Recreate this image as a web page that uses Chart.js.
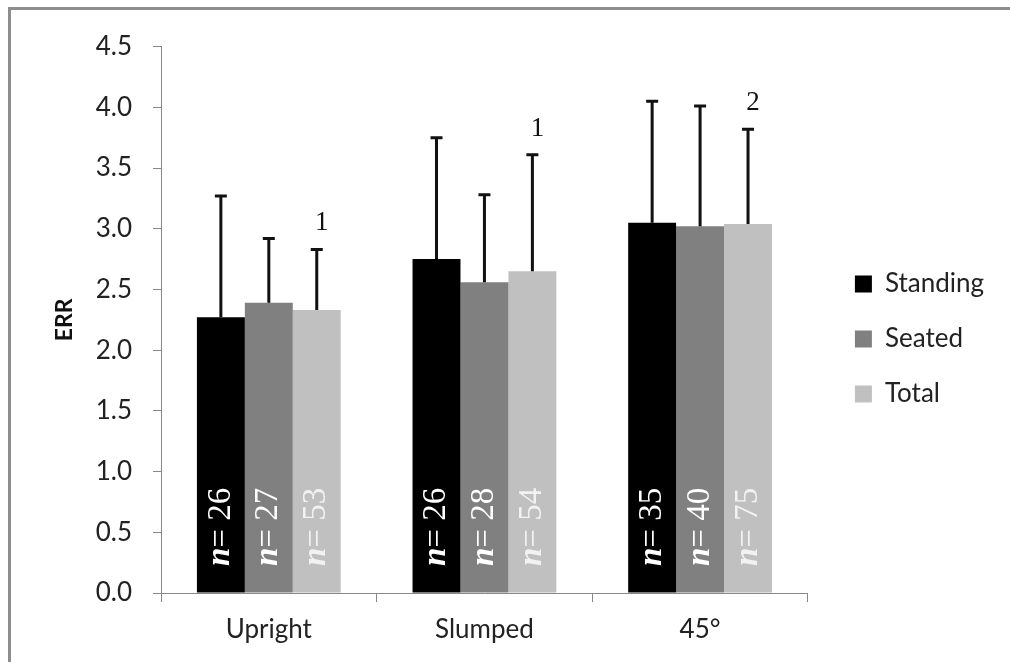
<!DOCTYPE html>
<html>
<head>
<meta charset="utf-8">
<script src="https://cdn.jsdelivr.net/npm/chart.js@4.4.1/dist/chart.umd.min.js"></script>
<style>
  html, body { margin: 0; padding: 0; background: #fff; overflow: hidden; }
  #frame {
    position: absolute; left: 8px; top: 7px;
    width: 1100px; height: 760px;
    border-top: 3px solid #8e8e8e; border-left: 3px solid #8e8e8e;
  }
  #grafico { position: absolute; left: 0; top: 0; }
</style>
</head>
<body>
<div id="frame"><canvas id="grafico" width="999" height="652"></canvas></div>
<script>
// data
const categorias = ["Upright", "Slumped", "45°"];
const series = ["Standing", "Seated", "Total"];
const standing = [2.27, 2.75, 3.05];
const seated = [2.39, 2.56, 3.02];
const total = [2.33, 2.65, 3.04];
const sdStanding = [1.00, 1.00, 1.00];
const sdSeated = [0.53, 0.72, 0.99];
const sdTotal = [0.50, 0.96, 0.78];
const nStanding = [26, 26, 35];
const nSeated = [27, 28, 40];
const nTotal = [53, 54, 75];
const marcas = ["1", "1", "2"]; // notes over the Total bars
const yTicks = [0, 0.5, 1, 1.5, 2, 2.5, 3, 3.5, 4, 4.5];

const cores = ["#000000", "#808080", "#c0c0c0"];
const coresTexto = ["#ffffff", "#ffffff", "#f2f2f2"];
const sds = [sdStanding, sdSeated, sdTotal];
const ns = [nStanding, nSeated, nTotal];

const sans = "Lato, 'Open Sans', sans-serif";
const serif = "'Liberation Serif', 'DejaVu Serif', serif";

// upward-only error bars, n labels and the small notes
const extras = {
  id: "extras",
  afterLayout(chart) {
    const lg = chart.legend;
    const dx = 18, dy = -12;
    lg.left += dx; lg.right += dx; lg.top += dy; lg.bottom += dy;
  },
  afterDatasetsDraw(chart) {
    const ctx = chart.ctx;
    const y = chart.scales.y;
    chart.data.datasets.forEach((ds, i) => {
      const meta = chart.getDatasetMeta(i);
      meta.data.forEach((bar, j) => {
        const topo = y.getPixelForValue(ds.data[j] + sds[i][j]);
        ctx.save();
        ctx.strokeStyle = "#111";
        ctx.lineWidth = 3;
        ctx.beginPath();
        ctx.moveTo(bar.x, bar.y);
        ctx.lineTo(bar.x, topo);
        ctx.moveTo(bar.x - 6, topo);
        ctx.lineTo(bar.x + 6, topo);
        ctx.stroke();

        // n = .. written upward inside the bar
        const base = y.getPixelForValue(0);
        ctx.translate(bar.x, base - 27);
        ctx.rotate(-Math.PI / 2);
        ctx.fillStyle = coresTexto[i];
        ctx.textBaseline = "middle";
        ctx.textAlign = "left";
        ctx.font = "bold italic 33px " + serif;
        ctx.fillText("n", 0, 0);
        const w = ctx.measureText("n").width;
        ctx.font = "33px " + serif;
        ctx.fillText("= " + ns[i][j], w, 0);
        ctx.restore();

        if (i === 2 && marcas[j]) {
          ctx.save();
          ctx.fillStyle = "#111";
          ctx.font = "27px " + serif;
          ctx.textAlign = "center";
          ctx.textBaseline = "alphabetic";
          ctx.fillText(marcas[j], bar.x + 5, topo - 19);
          ctx.restore();
        }
      });
    });
  }
};

const ctx = document.getElementById("grafico").getContext("2d");

const chart = new Chart(ctx, {
  type: "bar",
  data: {
    labels: categorias,
    datasets: [
      { label: series[0], data: standing, backgroundColor: cores[0] },
      { label: series[1], data: seated, backgroundColor: cores[1] },
      { label: series[2], data: total, backgroundColor: cores[2] },
    ],
  },
  options: {
    responsive: false,
    animation: false,
    devicePixelRatio: 1,
    layout: { padding: { top: 30, right: 34, bottom: 0, left: 0 } },
    datasets: {
      bar: { categoryPercentage: 0.667, barPercentage: 1.0, borderWidth: 0 },
    },
    scales: {
      x: {
        grid: { drawOnChartArea: false, tickLength: 9, color: "#888" },
        border: { color: "#888", width: 1 },
        ticks: { font: { family: sans, size: 26 }, color: "#222", padding: 12 },
        afterFit: (s) => { s.height = 69; },
      },
      y: {
        min: 0,
        max: 4.5,
        afterBuildTicks: (s) => { s.ticks = yTicks.map((v) => ({ value: v })); },
        grid: { drawOnChartArea: false, tickLength: 8, color: "#888" },
        border: { color: "#888", width: 1 },
        ticks: {
          font: { family: sans, size: 26 },
          color: "#222",
          padding: 21,
          callback: (v) => Number(v).toFixed(1),
        },
        title: {
          display: true,
          text: "ERR",
          font: { family: sans, size: 23, weight: "bold" },
          color: "#111",
          padding: { top: 40, bottom: 0 },
        },
        afterFit: (s) => { s.width = 150; },
      },
    },
    plugins: {
      legend: {
        position: "right",
        labels: {
          boxWidth: 17,
          boxHeight: 17,
          padding: 29,
          color: "#222",
          font: { family: sans, size: 26 },
        },
      },
      tooltip: { enabled: false },
    },
  },
  plugins: [extras],
});
</script>
</body>
</html>
